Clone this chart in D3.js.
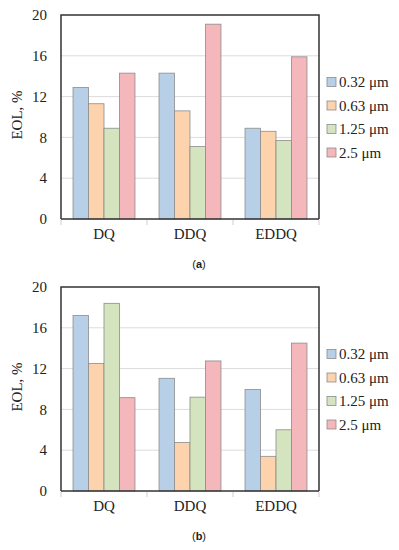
<!DOCTYPE html>
<html>
<head>
<meta charset="utf-8">
<script src="https://cdn.jsdelivr.net/npm/d3@7"></script>
<style>
  body { margin: 0; background: #fff; }
  text { font-family: "Liberation Serif", "DejaVu Serif", serif; fill: #222; }
</style>
</head>
<body>
<div id="chart"></div>
<script>
// chart data
var categories = ["DQ", "DDQ", "EDDQ"];
var series = ["0.32 \u03bcm", "0.63 \u03bcm", "1.25 \u03bcm", "2.5 \u03bcm"];
var colors = ["#b7cfe7", "#fdd3ae", "#d4e4be", "#f4b7bb"];
var yTicks = [0, 4, 8, 12, 16, 20];
// values per category, one row per series order above
var valuesA = [
  [12.9, 11.3, 8.9, 14.3],
  [14.3, 10.6, 7.1, 19.1],
  [8.9, 8.6, 7.7, 15.9]
];
var valuesB = [
  [17.2, 12.5, 18.4, 9.15],
  [11.05, 4.75, 9.2, 12.75],
  [9.95, 3.4, 6.0, 14.5]
];

var svg = d3.select("#chart")
  .append("svg")
  .attr("width", 399).attr("height", 550);

function drawPanel(data, top, label) {
  var left = 61, w = 258, h = 204;
  var g = svg.append("g").attr("transform", "translate(" + left + "," + top + ")");

  var x = d3.scaleBand().domain(categories).range([0, w]).paddingInner(0.28).paddingOuter(0.14);
  var x1 = d3.scaleBand().domain(series).range([0, x.bandwidth()]);
  var y = d3.scaleLinear().domain([0, 20]).range([h, 0]);

  // gridlines
  g.selectAll(".grid").data(yTicks.slice(1, -1)).enter()
    .append("line")
    .attr("x1", 0).attr("x2", w)
    .attr("y1", function(d) { return y(d); }).attr("y2", function(d) { return y(d); })
    .attr("stroke", "#dcdcdc").attr("stroke-width", 1);

  // bars
  var grp = g.selectAll(".cat").data(data).enter()
    .append("g")
    .attr("transform", function(d, i) { return "translate(" + x(categories[i]) + ",0)"; });
  grp.selectAll("rect").data(function(d) { return d; }).enter()
    .append("rect")
    .attr("x", function(d, j) { return x1(series[j]); })
    .attr("y", function(d) { return y(d); })
    .attr("width", x1.bandwidth())
    .attr("height", function(d) { return h - y(d); })
    .attr("fill", function(d, j) { return colors[j]; })
    .attr("stroke", "#8c8c8c").attr("stroke-width", 0.8);

  // frame
  g.append("path")
    .attr("d", "M0," + h + "V0H" + w + "V" + h)
    .attr("fill", "none").attr("stroke", "#333").attr("stroke-width", 1.5);
  g.append("line")
    .attr("x1", 0).attr("x2", w).attr("y1", h).attr("y2", h)
    .attr("stroke", "#333").attr("stroke-width", 1.5);

  // category separator ticks
  var step = w / categories.length;
  g.selectAll(".ctick").data(d3.range(categories.length + 1)).enter()
    .append("line")
    .attr("x1", function(d) { return d * step; }).attr("x2", function(d) { return d * step; })
    .attr("y1", h + 1).attr("y2", h + 6)
    .attr("stroke", "#cfcfcf").attr("stroke-width", 1);

  // y tick labels
  g.selectAll(".ylab").data(yTicks).enter()
    .append("text")
    .attr("x", -14).attr("y", function(d) { return y(d); })
    .attr("dy", "0.35em")
    .attr("text-anchor", "end")
    .style("font-size", "15px")
    .text(function(d) { return d; });

  // category labels
  g.selectAll(".xlab").data(categories).enter()
    .append("text")
    .attr("x", function(d) { return x(d) + x.bandwidth() / 2; })
    .attr("y", h + 20)
    .attr("text-anchor", "middle")
    .style("font-size", "15px")
    .text(function(d) { return d; });

  // y axis title
  g.append("text")
    .attr("transform", "translate(-39," + (h / 2 - 2) + ") rotate(-90)")
    .attr("text-anchor", "middle")
    .style("font-size", "15px")
    .text("EOL, %");

  // legend
  var lg = g.selectAll(".leg").data(series).enter()
    .append("g")
    .attr("transform", function(d, i) { return "translate(" + (w + 8) + "," + (67 + i * 23.5) + ")"; });
  lg.append("rect")
    .attr("x", 0).attr("y", -4.5).attr("width", 9).attr("height", 9)
    .attr("fill", function(d, i) { return colors[i]; })
    .attr("stroke", "#8c8c8c").attr("stroke-width", 0.8);
  lg.append("text")
    .attr("x", 12).attr("y", 0).attr("dy", "0.35em")
    .style("font-size", "15px")
    .text(function(d) { return d; });

  // caption
  var cap = svg.append("text")
    .attr("x", 199).attr("y", top + h + 49)
    .attr("text-anchor", "middle")
    .style("font-family", "'Liberation Sans', Arial, sans-serif")
    .style("font-size", "11px");
  cap.append("tspan").text("(");
  cap.append("tspan").style("font-weight", "bold").text(label);
  cap.append("tspan").text(")");
}

drawPanel(valuesA, 15, "a");
drawPanel(valuesB, 287, "b");
</script>
</body>
</html>
